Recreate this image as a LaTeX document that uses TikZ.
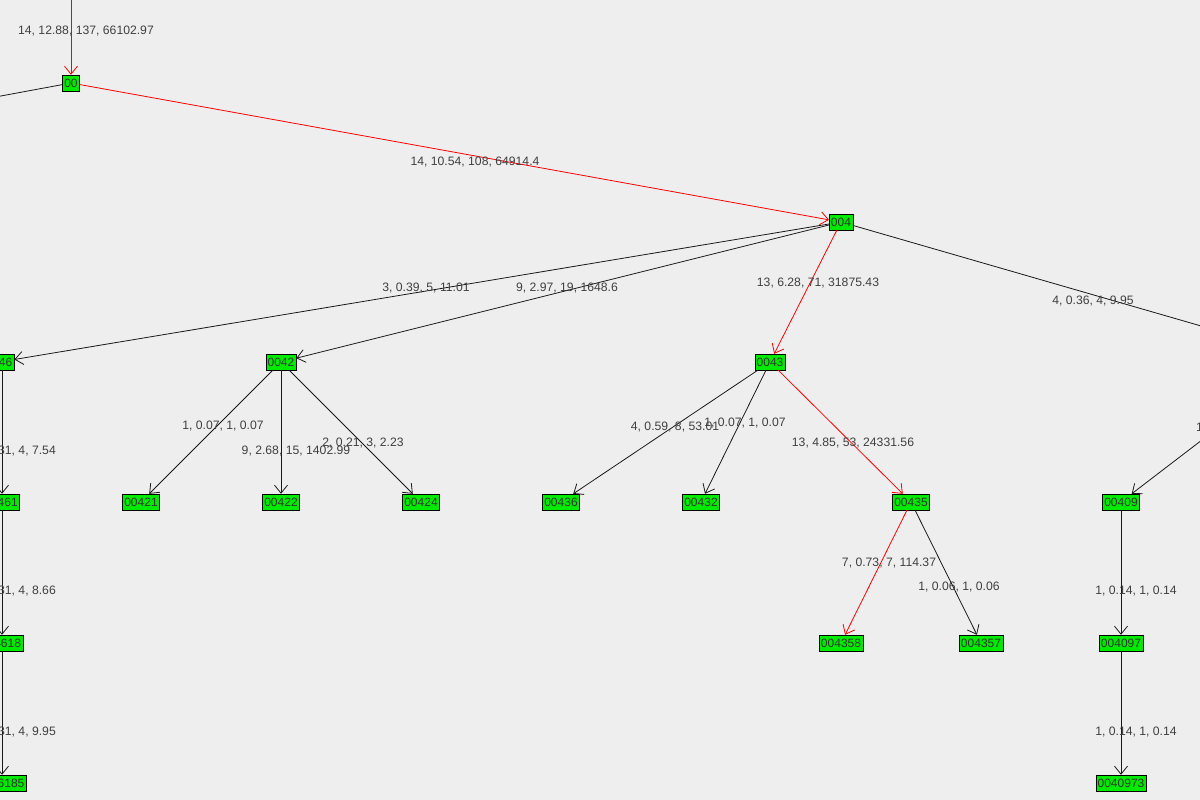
\documentclass[tikz,border=0pt]{standalone}
\usepackage{fontspec}
\setmainfont{Liberation Sans}
\usetikzlibrary{arrows.meta}
\begin{document}
\begin{tikzpicture}[x=1pt,y=-1pt,
  nd/.style={draw=black,fill={rgb,255:red,0;green,235;blue,0},font=\fontsize{12}{13}\selectfont,inner sep=1.8pt,minimum height=16,text=black!80},
  ed/.style={draw=black!90,-{Straight Barb[length=8pt,width=13pt]},line width=0.8pt},
  hot/.style={ed,draw=red},
  lb/.style={font=\fontsize{12.2}{13}\selectfont,text=black!75,inner sep=0}]
\fill[fill={rgb,255:red,238;green,238;blue,238}] (0,0) rectangle (1200,800);
\useasboundingbox (0,0) rectangle (1200,800);
\clip (0,0) rectangle (1200,800);
\node[nd] (n00) at (71,83) {00};
\node[nd] (n004) at (841,222) {004};
\node[nd] (n0046) at (-1,362) {0046};
\node[nd] (n0042) at (281,362) {0042};
\node[nd] (n0043) at (770,362) {0043};
\node[nd] (n00461) at (1,502) {00461};
\node[nd] (n00421) at (141,502) {00421};
\node[nd] (n00422) at (281,502) {00422};
\node[nd] (n00424) at (421,502) {00424};
\node[nd] (n00436) at (561,502) {00436};
\node[nd] (n00432) at (701,502) {00432};
\node[nd] (n00435) at (911,502) {00435};
\node[nd] (n00409) at (1121,502) {00409};
\node[nd] (n004618) at (1,643) {004618};
\node[nd] (n004358) at (841,643) {004358};
\node[nd] (n004357) at (981,643) {004357};
\node[nd] (n004097) at (1121,643) {004097};
\node[nd] (n0046185) at (1,783) {0046185};
\node[nd] (n0040973) at (1121,783) {0040973};
\coordinate (top) at (71,-5);
\coordinate (lft) at (-10,98);
\coordinate (rgt) at (1215,330);
\coordinate (rgt2) at (1215,430);
\draw[hot] (top) -- (n00);
\draw[draw=black!90,line width=0.8pt] (lft) -- (n00);
\draw[hot] (n00) -- (n004);
\draw[ed] (n004) -- (n0046);
\draw[ed] (n004) -- (n0042);
\draw[hot] (n004) -- (n0043);
\draw[draw=black!90,line width=0.8pt] (n004) -- (rgt);
\draw[ed] (rgt2) -- (n00409);
\draw[ed] (n0046.south -| 2,0) -- (n00461.north -| 2,0);
\draw[ed] (n00461.south -| 2,0) -- (n004618.north -| 2,0);
\draw[ed] (n004618.south -| 2,0) -- (n0046185.north -| 2,0);
\draw[ed] (n0042) -- (n00421);
\draw[ed] (n0042) -- (n00422);
\draw[ed] (n0042) -- (n00424);
\draw[ed] (n0043) -- (n00436);
\draw[ed] (n0043) -- (n00432);
\draw[hot] (n0043) -- (n00435);
\draw[hot] (n00435) -- (n004358);
\draw[ed] (n00435) -- (n004357);
\draw[ed] (n00409) -- (n004097);
\draw[ed] (n004097) -- (n0040973);
\node[lb] (l1) at (86,31) {14, 12.88, 137, 66102.97};
\node[lb] (l2) at (475,162) {14, 10.54, 108, 64914.4};
\node[lb] (l3) at (426,288) {3, 0.39, 5, 11.01};
\node[lb] (l4) at (567,288) {9, 2.97, 19, 1648.6};
\node[lb] (l5) at (818,283) {13, 6.28, 71, 31875.43};
\node[lb] (l6) at (1093,301) {4, 0.36, 4, 9.95};
\node[lb] (l7) at (223,426) {1, 0.07, 1, 0.07};
\node[lb] (l8) at (296,451) {9, 2.68, 15, 1402.99};
\node[lb] (l9) at (363,443) {2, 0.21, 3, 2.23};
\node[lb] (l10) at (675,427) {4, 0.59, 8, 53.01};
\node[lb] (l11) at (745,423) {1, 0.07, 1, 0.07};
\node[lb] (l12) at (853,443) {13, 4.85, 53, 24331.56};
\node[lb] (l13) at (889,563) {7, 0.73, 7, 114.37};
\node[lb] (l14) at (959,587) {1, 0.06, 1, 0.06};
\node[lb] (l15) at (1136,591) {1, 0.14, 1, 0.14};
\node[lb] (l16) at (1136,732) {1, 0.14, 1, 0.14};
\node[lb,anchor=east] (l17) at (56,451) {31, 4, 7.54};
\node[lb,anchor=east] (l18) at (56,591) {31, 4, 8.66};
\node[lb,anchor=east] (l19) at (56,732) {31, 4, 9.95};
\node[lb,anchor=west] (l20) at (1196,427) {1};
\end{tikzpicture}
\end{document}
